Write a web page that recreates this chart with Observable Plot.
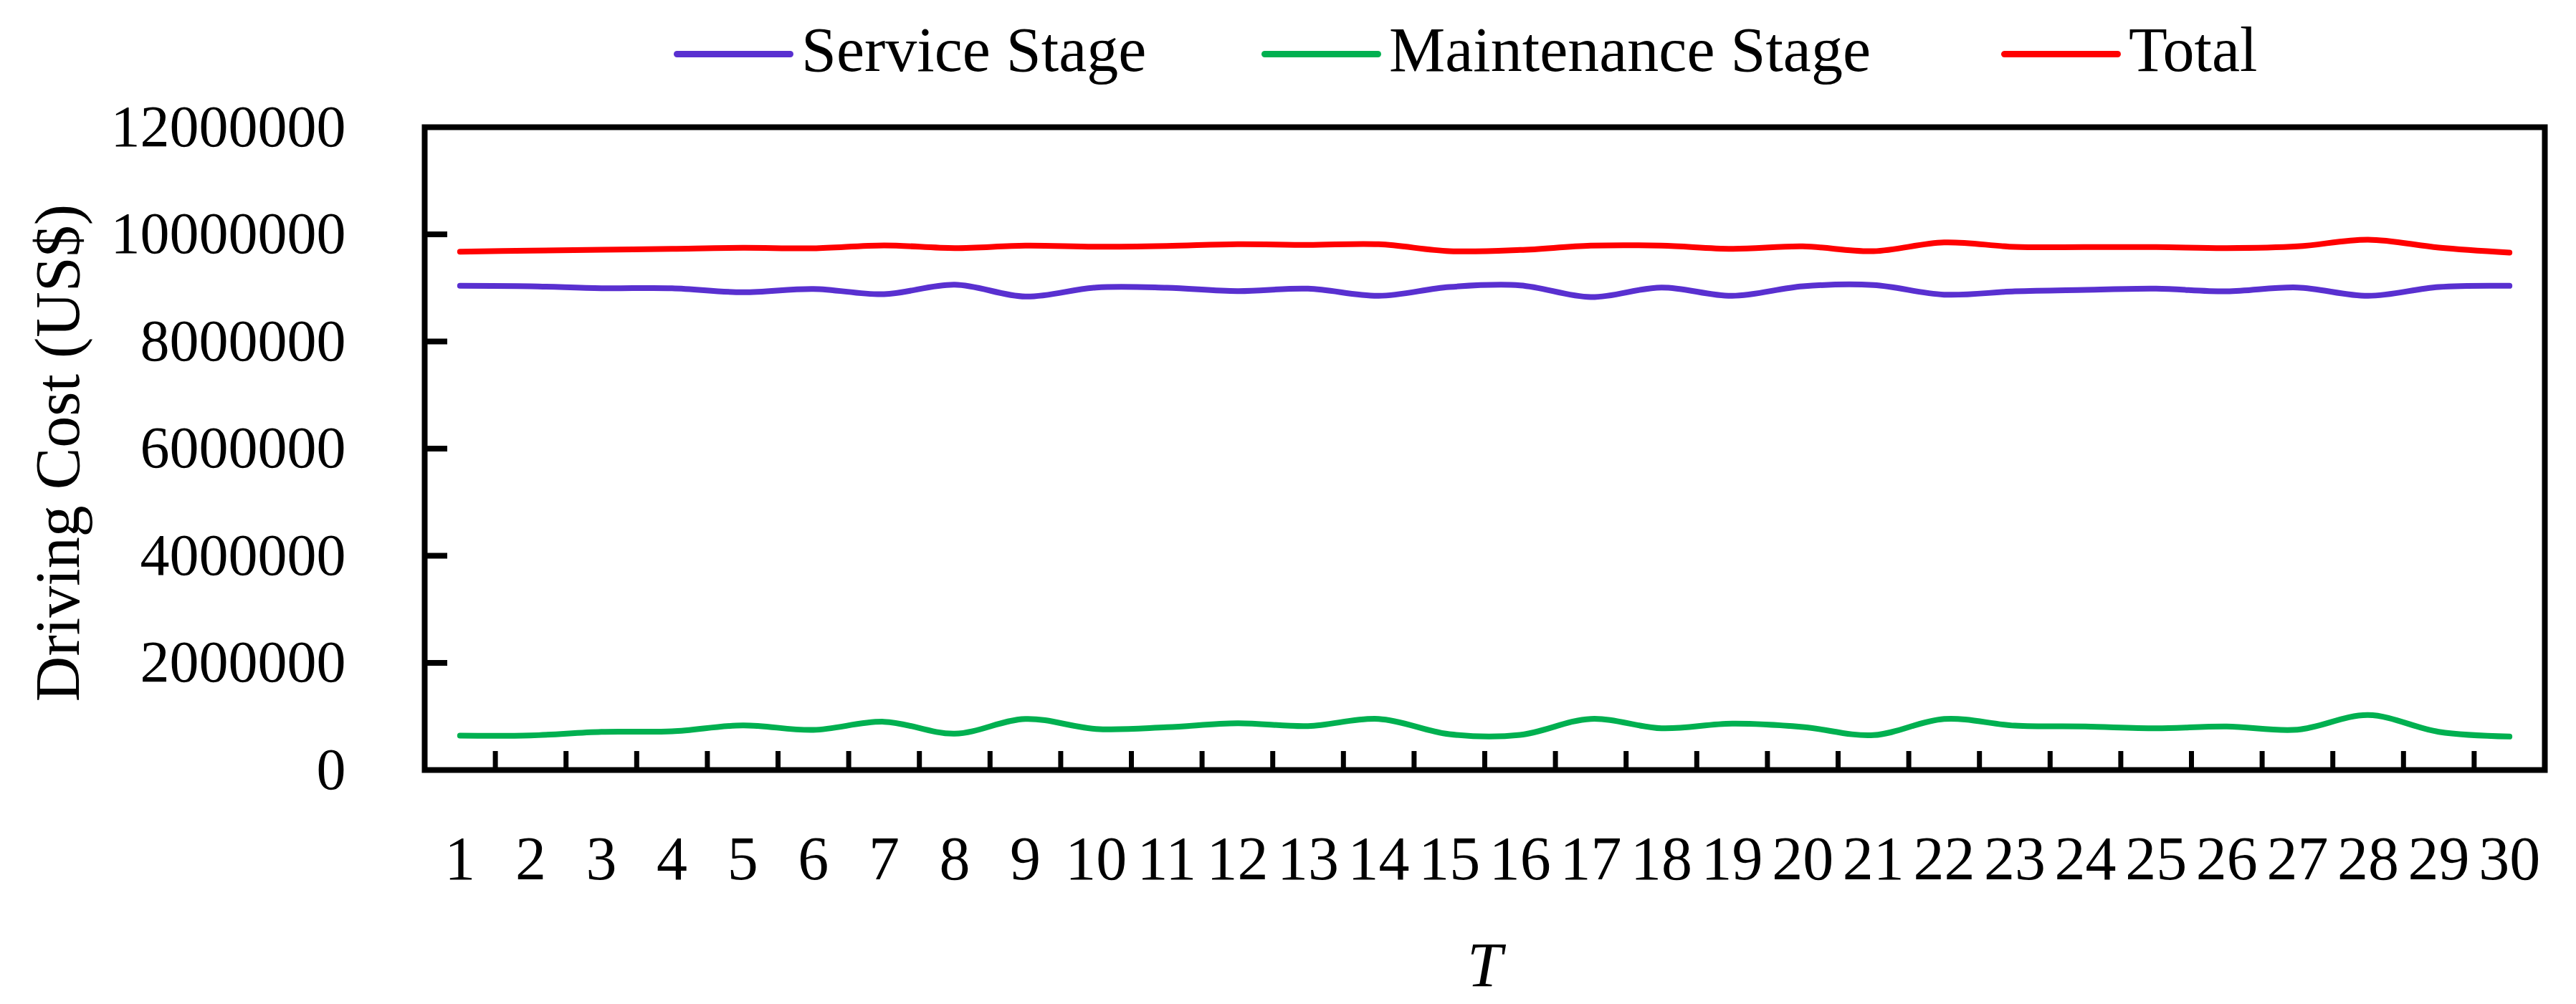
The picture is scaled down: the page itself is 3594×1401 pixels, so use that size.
<!DOCTYPE html>
<html>
<head>
<meta charset="utf-8">
<script src="https://cdn.jsdelivr.net/npm/d3@7"></script>
<script src="https://cdn.jsdelivr.net/npm/@observablehq/plot@0.6"></script>
<style>
  html, body { margin: 0; padding: 0; background: #fff; }
  #legend { position: relative; width: 3594px; height: 150px; font-family: "Liberation Serif", serif; }
  .item { position: absolute; top: 0; height: 150px; display: flex; align-items: center; }
  .sw { width: 167px; height: 9px; border-radius: 5px; }
  .lab { margin-left: 11px; font-size: 88px; line-height: 1; transform: translateY(-5px); color: #000; white-space: nowrap; }
</style>
</head>
<body>
<div id="legend"></div>
<div id="chart"></div>
<script>
const T = [1,2,3,4,5,6,7,8,9,10,11,12,13,14,15,16,17,18,19,20,21,22,23,24,25,26,27,28,29,30];

const serviceStage = [9039000, 9030000, 8994000, 8994000, 8919000, 8981000, 8883000, 9061000, 8839000, 9008000,
                      9003000, 8941000, 8985000, 8852000, 9017000, 9048000, 8829000, 9008000, 8852000, 9030000,
                      9053000, 8874000, 8936000, 8963000, 8985000, 8936000, 9008000, 8852000, 9017000, 9039000];

const maintenanceStage = [642000, 646000, 713000, 722000, 834000, 749000, 901000, 678000, 954000, 767000,
                          798000, 874000, 820000, 954000, 669000, 656000, 954000, 780000, 865000, 803000,
                          651000, 954000, 829000, 812000, 780000, 812000, 753000, 1026000, 713000, 625000];

const total = [9676000, 9695000, 9712000, 9730000, 9748000, 9739000, 9793000, 9743000, 9789000, 9770000,
               9784000, 9815000, 9802000, 9815000, 9686000, 9708000, 9789000, 9789000, 9730000, 9775000,
               9686000, 9850000, 9766000, 9762000, 9762000, 9743000, 9775000, 9900000, 9753000, 9659000];

const seriesNames = ["Service Stage", "Maintenance Stage", "Total"];
const seriesColors = ["#5930D0", "#00B050", "#FF0000"];
const yTicks = [0, 2000000, 4000000, 6000000, 8000000, 10000000, 12000000];
const xLabel = "T";
const yLabel = "Driving Cost (US$)";

// legend (HTML, above the SVG)
const legendLeft = [940, 1760, 2792];
const legend = document.getElementById("legend");
seriesNames.forEach((name, i) => {
  const it = document.createElement("div");
  it.className = "item";
  it.style.left = legendLeft[i] + "px";
  const sw = document.createElement("div");
  sw.className = "sw";
  sw.style.background = seriesColors[i];
  const lab = document.createElement("span");
  lab.className = "lab";
  lab.textContent = name;
  it.appendChild(sw);
  it.appendChild(lab);
  legend.appendChild(it);
});

const seriesValues = [serviceStage, maintenanceStage, total];
const rows = [];
seriesNames.forEach((name, s) => {
  T.forEach((t, i) => rows.push({series: name, t, v: seriesValues[s][i]}));
});
const xBounds = T.slice(0, -1).map(t => t + 0.5);

const W = 3594, H = 1251;
const mL = 592, mR = 44, mT = 27, mB = 327;
const plotW = W - mL - mR, plotH = H - mT - mB;

const chart = Plot.plot({
  width: W,
  height: H,
  marginLeft: mL,
  marginRight: mR,
  marginTop: mT,
  marginBottom: mB,
  style: {fontFamily: "Liberation Serif, serif", fontSize: "82px", color: "#000", background: "#fff", overflow: "visible"},
  x: {domain: [0.5, 30.5], axis: null},
  y: {domain: [0, 12000000], axis: null},
  color: {domain: seriesNames, range: seriesColors},
  marks: [
    Plot.axisY({ticks: yTicks, tickSize: 0, tickPadding: 110, tickFormat: d3.format("d"), label: null, fontSize: 82}),
    Plot.axisX({ticks: T, tickSize: 0, tickPadding: 91, tickFormat: d => String(d), label: null, fontSize: 86}),
    Plot.tickY(yTicks.slice(1, -1), {y: d => d, stroke: "#000", strokeWidth: 8, insetRight: plotW - 32}),
    Plot.tickX(xBounds, {x: d => d, stroke: "#000", strokeWidth: 7, insetTop: plotH - 26}),
    Plot.lineY(rows, {x: "t", y: "v", z: "series", stroke: "series", strokeWidth: 8, curve: "catmull-rom", strokeLinecap: "round", strokeLinejoin: "round"}),
    Plot.frame({stroke: "#000", strokeWidth: 8}),
    Plot.text([yLabel], {frameAnchor: "left", textAnchor: "middle", lineAnchor: "middle", dx: -511, dy: 6, rotate: -90, fontSize: 88, fill: "#000"}),
    Plot.text([xLabel], {frameAnchor: "bottom", textAnchor: "middle", lineAnchor: "middle", dy: 273, fontSize: 88, fontStyle: "italic", fill: "#000"})
  ]
});
document.getElementById("chart").appendChild(chart);
</script>
</body>
</html>
